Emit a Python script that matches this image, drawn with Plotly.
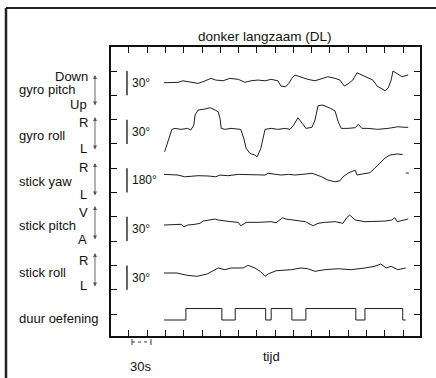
import plotly.graph_objects as go

# ---------------- data (time in s, values in degrees) ----------------
gyro_pitch_t = [0, 23, 31, 44, 56, 67, 77, 85, 97, 108, 122, 133, 143, 154, 166, 176, 187, 192, 200, 205,
                210, 215, 227, 236, 248, 259, 269, 281, 289, 296, 302, 310, 317, 325, 335, 343, 350, 358,
                363, 368, 373, 376, 384, 391, 396, 401]
gyro_pitch = [0.4, 0.9, 2.8, 0.9, -0.4, 2.5, 5.8, 3.7, 2.8, 5.8, 4.6, 0.9, 2.8, 3.7, 2.8, 4.6, 2.8, -3.7, -4.6, -0.4,
              5.8, 9.9, 6.5, 4.6, 2.8, 5.8, 7.8, 5.8, 3.7, -3.7, -1.2, 3.7, 12.7, 9.9, 7.0, 3.7, -3.7, -7.8,
              -9.5, -6.5, 3.7, 14.8, 11.1, 7.8, 9.0, 9.9]

gyro_roll_t = [1, 5, 10, 13, 18, 28, 39, 44, 49, 51, 56, 67, 76, 84, 89, 92, 94, 100, 110, 126,
               131, 135, 141, 149, 153, 159, 164, 166, 176, 187, 199, 207, 213, 220, 227, 233, 243, 248,
               253, 261, 273, 281, 286, 291, 302, 314, 319, 325, 335, 351, 368, 384, 396, 401]
gyro_roll = [-28.7, -20.4, -8.0, -1.0, 0.2, -1.0, 0.2, -1.9, 4.3, 16.7, 22.8, 24.1, 25.7, 22.8, 20.7, 12.6, 0.2, -1.0, 0.2, -1.0,
             -12.1, -24.5, -30.6, -32.7, -34.8, -24.5, -8.0, -1.0, 0.2, -1.0, 0.2, -1.0, 4.3, 13.3, 6.4, 0.2, 1.5, 10.5,
             28.2, 29.0, 24.9, 21.6, 8.4, 0.2, 0.2, 1.0, 5.2, 0.2, 0.2, -1.0, 0.2, 2.2, 1.5, 1.5]

stick_yaw_t = [0, 23, 34, 56, 72, 85, 92, 105, 122, 143, 166, 171, 182, 192, 205, 215, 232, 243, 259, 269,
               281, 289, 294, 302, 314, 317, 325, 338, 346, 355, 363, 371, 383, 392, 394, 397, 402]
stick_yaw = [5, 0, -13, -5, -7, -13, 0, -5, 5, 0, 0, 13, 7, 0, 5, 0, 7, 13, -13, -37,
             -50, -42, -13, 13, 37, 0, 7, 17, 50, 87, 126, 148, 156, 152, None, 15, 15]

stick_pitch_t = [0, 18, 28, 33, 39, 51, 59, 64, 72, 84, 89, 100, 110, 122, 126, 130, 135, 154, 176, 184,
                 190, 195, 200, 210, 223, 232, 245, 253, 264, 281, 294, 300, 305, 314, 330, 346, 363, 374,
                 379, 383, 392, 401]
stick_pitch = [-3.7, -3.7, -2.8, -5.8, -3.7, -2.8, -1.6, 1.2, 2.5, 3.7, 2.5, 1.2, 0.4, -0.4, -4.6, -2.8, -0.4, -0.4, 0.4, -0.9,
               2.5, 5.3, 3.7, 2.5, 1.2, 0.4, -4.6, -1.6, -0.4, 0.4, -1.6, 5.3, 8.6, 2.5, 0.4, 0.4, 1.2, 2.5,
               5.3, 0.4, 2.5, 3.7]

stick_roll_t = [0, 21, 38, 54, 71, 89, 100, 110, 130, 138, 149, 158, 166, 171, 184, 209, 225, 236, 248, 264,
                286, 307, 330, 346, 356, 365, 373, 384, 397]
stick_roll = [-3.7, -3.7, -6.5, -7.8, -4.9, 2.5, 0.4, 2.5, 2.5, 5.8, 2.5, -1.6, -7.8, -4.9, -0.9, 0.4, 2.5, 1.6, -1.6, 0.4,
              1.6, 0.4, 2.5, 4.6, 7.4, 2.5, 4.6, 0.4, 2.5]

duur_t = [0, 36, 95, 117, 167, 176, 210, 233, 315, 330, 392, 397]
duur = [0, 1, 0, 1, 0, 1, 0, 1, 0, 1, 0, 0]

channel_labels = ["gyro pitch", "gyro roll", "stick yaw", "stick pitch", "stick roll", "duur oefening"]
scale_labels = ["30°", "30°", "180°", "30°", "30°"]
title_text = "donker langzaam (DL)"

# ---------------- layout helpers ----------------
W, H = 436, 378
L, R, T, B = 111, 420, 47, 336


def px(x):
    return (x - L) / (R - L)


def py(y):
    return (B - y) / (B - T)


fig = go.Figure()
ink = "#1e1e1e"


def add(t, v, off, scale, shape="linear"):
    y = [None if a is None else off + a / scale for a in v]
    fig.add_trace(go.Scatter(x=t, y=y, mode="lines", connectgaps=False,
                             line=dict(color=ink, width=1.0, shape=shape),
                             hoverinfo="skip", showlegend=False))


add(gyro_pitch_t, gyro_pitch, 9.506, 30)
add(gyro_roll_t, gyro_roll, 7.634, 30)
add(stick_yaw_t, stick_yaw, 5.72, 180)
add(stick_pitch_t, stick_pitch, 3.786, 30)
add(stick_roll_t, stick_roll, 1.811, 30)
add(duur_t, duur, -0.247, 1 / 0.473, shape="hv")

FF = "Liberation Sans, Arial, sans-serif"
font = dict(family=FF, size=13, color="#111")
ann = []
# title
ann.append(dict(text=title_text, x=px(265), y=py(37), xref="paper", yref="paper",
                xanchor="center", yanchor="middle", showarrow=False,
                font=dict(family=FF, size=13.5, color="#111")))

side = [("Down", "gyro pitch", "Up", 76, 90, 104, 75, 107),
        ("R", "gyro roll", "L", 122, 135, 148, 117, 151),
        ("R", "stick yaw", "L", 167, 181, 194, 163, 197),
        ("V", "stick pitch", "A", 213, 226, 239, 206, 241),
        ("R", "stick roll", "L", 260, 272, 285, 253, 288)]
for top, name, bot, yt, yn, yb, a0, a1 in side:
    ann.append(dict(text=top, x=px(90), y=py(yt), xref="paper", yref="paper", xanchor="right",
                    yanchor="middle", showarrow=False, font=font))
    ann.append(dict(text=name, x=px(17), y=py(yn), xref="paper", yref="paper", xanchor="left",
                    yanchor="middle", showarrow=False, font=font))
    ann.append(dict(text=bot, x=px(89), y=py(yb), xref="paper", yref="paper", xanchor="right",
                    yanchor="middle", showarrow=False, font=font))
    ann.append(dict(text="", x=px(95), y=py(a0), xref="paper", yref="paper",
                    ax=0, ay=a1 - a0, axref="pixel", ayref="pixel", showarrow=True,
                    arrowside="end+start", arrowhead=2, arrowsize=0.9, arrowwidth=0.9,
                    arrowcolor="#555"))

ann.append(dict(text=channel_labels[5], x=px(17), y=py(318), xref="paper", yref="paper",
                xanchor="left", yanchor="middle", showarrow=False, font=font))
ann.append(dict(text="30s", x=px(140), y=py(366), xref="paper", yref="paper",
                xanchor="center", yanchor="middle", showarrow=False, font=font))
ann.append(dict(text="tijd", x=px(271), y=py(356), xref="paper", yref="paper",
                xanchor="center", yanchor="middle", showarrow=False, font=font))

shapes = []
bar_t = -60.8
for i, lab in enumerate(scale_labels):
    lo = 9 - 2 * i
    shapes.append(dict(type="line", xref="x", yref="y", x0=bar_t, x1=bar_t, y0=lo, y1=lo + 1,
                       line=dict(color=ink, width=1.4)))
    ann.append(dict(text=lab, x=-55.8, y=lo + 0.5, xref="x", yref="y", xanchor="left",
                    yanchor="middle", showarrow=False,
                    font=dict(family=FF, size=12, color="#111")))

# 30 s scale bar below the axis
shapes.append(dict(type="line", xref="paper", yref="paper", x0=px(132), x1=px(151), y0=py(342), y1=py(342),
                   line=dict(color="#444", width=1, dash="dot")))
for xx in (132, 151):
    shapes.append(dict(type="line", xref="paper", yref="paper", x0=px(xx), x1=px(xx), y0=py(339), y1=py(345),
                       line=dict(color="#444", width=1)))

# outer frame (left and top)
shapes.append(dict(type="line", xref="paper", yref="paper", x0=px(6), x1=px(6), y0=py(8), y1=py(378),
                   line=dict(color="#222", width=2.5)))
shapes.append(dict(type="line", xref="paper", yref="paper", x0=px(6), x1=px(436), y0=py(8), y1=py(8),
                   line=dict(color="#222", width=2)))

axis_common = dict(showline=True, linecolor="#111", linewidth=1.5, mirror="ticks", ticks="inside",
                   ticklen=6, tickwidth=1.2, tickcolor="#111", showticklabels=False,
                   showgrid=False, zeroline=False, fixedrange=True)

fig.update_layout(
    width=W, height=H,
    margin=dict(l=L, r=W - R, t=T, b=H - B, pad=0),
    paper_bgcolor="white", plot_bgcolor="white",
    xaxis=dict(range=[-87, 420.4], tick0=-57.5, dtick=30, **axis_common),
    yaxis=dict(range=[-0.905, 10.99], tickvals=list(range(11)), **axis_common),
    annotations=ann, shapes=shapes, showlegend=False,
)

fig.write_html("out.html", config={"displayModeBar": False},
               post_script="document.body.style.margin='0';document.body.style.overflow='hidden';")
